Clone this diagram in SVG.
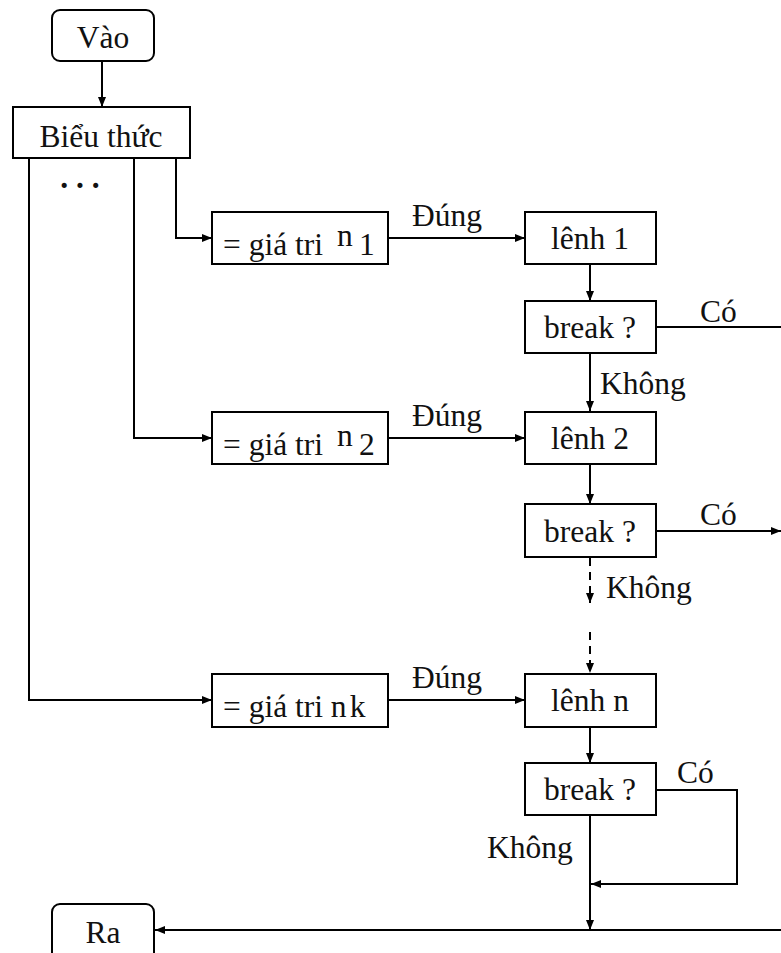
<svg xmlns="http://www.w3.org/2000/svg" width="781" height="953" viewBox="0 0 781 953">
<style>
.b{fill:#fff;stroke:#000;stroke-width:2}
.t{font-family:"Liberation Serif","Times New Roman",serif;font-size:31.5px;fill:#111}
.c{stroke:#000;stroke-width:2;fill:none}
.d{stroke:#000;stroke-width:2;fill:none;stroke-dasharray:8,6}
</style>
<defs>
<marker id="ar" viewBox="0 0 10 10" refX="10" refY="5" markerWidth="10" markerHeight="10" markerUnits="userSpaceOnUse" orient="auto">
<path d="M0,1 L10,5 L0,9 Z" fill="#000"/>
</marker>
</defs>
<rect width="781" height="953" fill="#fff"/>
<g id="connectors">
<path class="c" d="M102,62 V107" marker-end="url(#ar)"/>
<path class="c" d="M176,158 V238 H212" marker-end="url(#ar)"/>
<path class="c" d="M134,158 V438 H212" marker-end="url(#ar)"/>
<path class="c" d="M29,158 V700 H212" marker-end="url(#ar)"/>
<path class="c" d="M388,238 H525" marker-end="url(#ar)"/>
<path class="c" d="M388,438 H525" marker-end="url(#ar)"/>
<path class="c" d="M388,700 H525" marker-end="url(#ar)"/>
<path class="c" d="M590,264 V301" marker-end="url(#ar)"/>
<path class="c" d="M590,353 V411" marker-end="url(#ar)"/>
<path class="c" d="M590,464 V504" marker-end="url(#ar)"/>
<path class="c" d="M590,727 V763" marker-end="url(#ar)"/>
<path class="c" d="M656,327 H781"/>
<path class="c" d="M656,531 H781" marker-end="url(#ar)"/>
<path class="d" d="M590,558 V603" marker-end="url(#ar)"/>
<path class="d" d="M590,632 V673" marker-end="url(#ar)"/>
<path class="c" d="M656,790 H737 V884 H591" marker-end="url(#ar)"/>
<path class="c" d="M590,815 V930" marker-end="url(#ar)"/>
<path class="c" d="M781,930 H155" marker-end="url(#ar)"/>
<text class="t" x="412" y="226">Đúng</text>
<text class="t" x="412" y="426">Đúng</text>
<text class="t" x="412" y="688">Đúng</text>
<text class="t" x="700" y="322">Có</text>
<text class="t" x="700" y="525">Có</text>
<text class="t" x="677" y="783">Có</text>
<text class="t" x="600" y="394">Không</text>
<text class="t" x="606" y="598">Không</text>
<text class="t" x="487" y="858">Không</text>
</g>
<g id="vao">
<rect class="b" x="52" y="10" width="102" height="51" rx="8"/>
<text class="t" x="103" y="48" text-anchor="middle">Vào</text>
</g>
<g id="bieuthuc">
<rect class="b" x="13" y="107" width="177" height="51"/>
<text class="t" x="101" y="147" text-anchor="middle">Biểu thức</text>
<text class="t" x="80" y="188" text-anchor="middle" font-weight="bold">. . .</text>
</g>
<g id="giatri1">
<rect class="b" x="212" y="212" width="176" height="52"/>
<text class="t" x="223" y="255">= giá tri <tspan x="337" dy="-9">n</tspan><tspan x="359" dy="9">1</tspan></text>
</g>
<g id="lenh1">
<rect class="b" x="525" y="212" width="131" height="52"/>
<text class="t" x="590" y="249" text-anchor="middle">lênh 1</text>
</g>
<g id="break1">
<rect class="b" x="525" y="301" width="131" height="52"/>
<text class="t" x="590" y="338" text-anchor="middle">break ?</text>
</g>
<g id="giatri2">
<rect class="b" x="212" y="412" width="176" height="52"/>
<text class="t" x="223" y="455">= giá tri <tspan x="337" dy="-9">n</tspan><tspan x="359" dy="9">2</tspan></text>
</g>
<g id="lenh2">
<rect class="b" x="525" y="412" width="131" height="52"/>
<text class="t" x="590" y="449" text-anchor="middle">lênh 2</text>
</g>
<g id="break2">
<rect class="b" x="525" y="504" width="131" height="53"/>
<text class="t" x="590" y="542" text-anchor="middle">break ?</text>
</g>
<g id="giatrik">
<rect class="b" x="212" y="674" width="176" height="53"/>
<text class="t" x="223" y="717">= giá tri n<tspan dx="3">k</tspan></text>
</g>
<g id="lenhn">
<rect class="b" x="525" y="674" width="131" height="53"/>
<text class="t" x="590" y="711" text-anchor="middle">lênh n</text>
</g>
<g id="break3">
<rect class="b" x="525" y="763" width="131" height="52"/>
<text class="t" x="590" y="800" text-anchor="middle">break ?</text>
</g>
<g id="ra">
<rect class="b" x="52" y="904" width="102" height="60" rx="8"/>
<text class="t" x="103" y="943" text-anchor="middle">Ra</text>
</g>
</svg>
